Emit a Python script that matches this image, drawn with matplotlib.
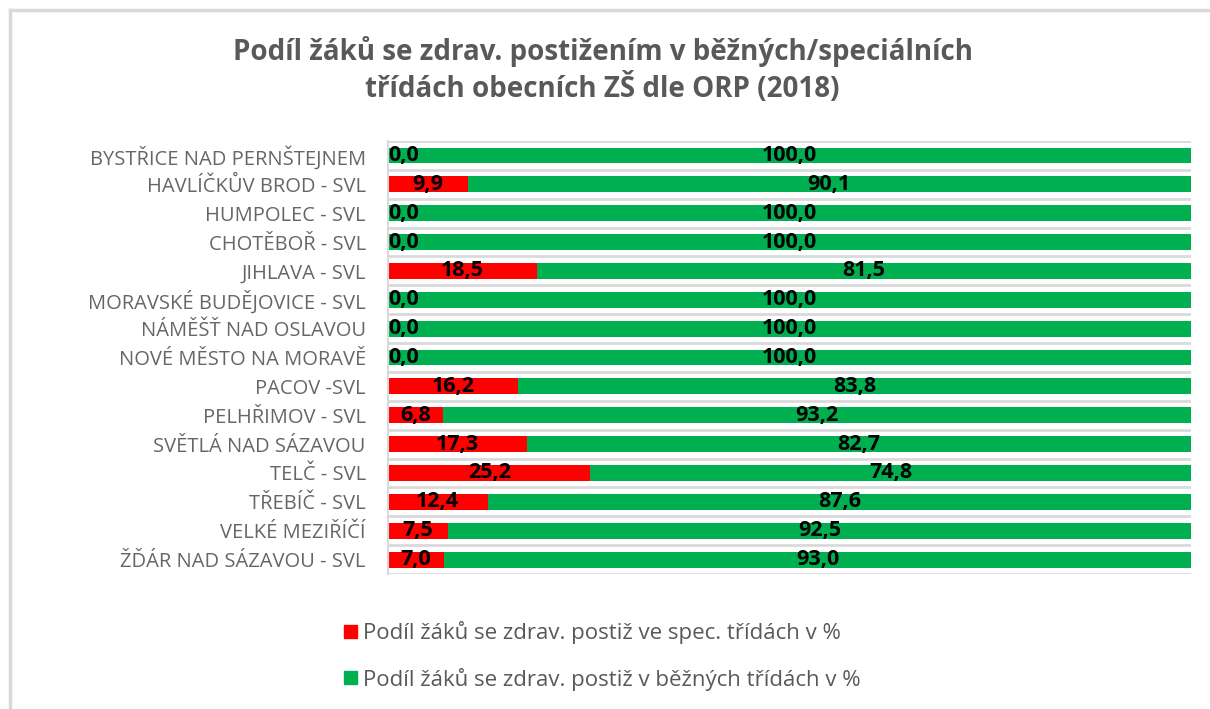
import numpy as np
import matplotlib.pyplot as plt
from matplotlib.lines import Line2D
from matplotlib.patches import Patch

orp = ["BYSTŘICE NAD PERNŠTEJNEM", "HAVLÍČKŮV BROD - SVL", "HUMPOLEC - SVL",
       "CHOTĚBOŘ - SVL", "JIHLAVA - SVL", "MORAVSKÉ BUDĚJOVICE - SVL",
       "NÁMĚŠŤ NAD OSLAVOU", "NOVÉ MĚSTO NA MORAVĚ", "PACOV -SVL",
       "PELHŘIMOV - SVL", "SVĚTLÁ NAD SÁZAVOU", "TELČ - SVL", "TŘEBÍČ - SVL",
       "VELKÉ MEZIŘÍČÍ", "ŽĎÁR NAD SÁZAVOU - SVL"]
spec = [0.0, 9.9, 0.0, 0.0, 18.5, 0.0, 0.0, 0.0, 16.2, 6.8, 17.3, 25.2, 12.4, 7.5, 7.0]
bezne = [100.0, 90.1, 100.0, 100.0, 81.5, 100.0, 100.0, 100.0, 83.8, 93.2, 82.7, 74.8, 87.6, 92.5, 93.0]
legend_labels = ["Podíl žáků se zdrav. postiž ve spec. třídách v %",
                 "Podíl žáků se zdrav. postiž v běžných třídách v %"]
title = "Podíl žáků se zdrav. postižením v běžných/speciálních\ntřídách obecních ZŠ dle ORP (2018)"

RED = "#ff0000"
GREEN = "#00b050"
GRAY = "#595959"

plt.rcParams['font.family'] = ['Open Sans', 'DejaVu Sans']

fig = plt.figure(figsize=(12.1, 7.09), dpi=100)
ax = fig.add_axes([0.3207, 0.1904, 0.6636, 0.6107])

y = np.arange(len(orp))
ax.barh(y, spec, height=0.55, color=RED)
ax.barh(y, bezne, left=spec, height=0.55, color=GREEN)

lab_font = dict(fontsize=15.5, fontweight='bold', color='black')
for i in range(len(orp)):
    s1 = f"{spec[i]:.1f}".replace('.', ',')
    s2 = f"{bezne[i]:.1f}".replace('.', ',')
    if spec[i] == 0:
        ax.annotate(s1, (0, y[i]), xytext=(0, 0), textcoords='offset points',
                    ha='left', va='center', **lab_font)
    else:
        ax.text(spec[i] / 2, y[i], s1, ha='center', va='center', **lab_font)
    ax.text(spec[i] + bezne[i] / 2, y[i], s2, ha='center', va='center', **lab_font)

ax.set_xlim(0, 100)
ax.set_ylim(len(orp) - 0.5, -0.5)
ax.set_yticks(y)
ax.set_yticklabels(orp, fontsize=14.5, color='#666666')
ax.tick_params(axis='y', length=0, pad=16)
ax.set_xticks([])
ax.set_yticks(np.arange(len(orp) + 1) - 0.5, minor=True)
ax.tick_params(axis='y', which='minor', length=0)
ax.grid(True, which='minor', axis='y', color='#d9d9d9', linewidth=2)
ax.set_axisbelow(True)
for s in ['top', 'right', 'bottom']:
    ax.spines[s].set_visible(False)
ax.spines['left'].set_color('#d9d9d9')
ax.spines['left'].set_linewidth(1.5)

fig.text(0.498, 0.901, title, ha='center', va='center', fontsize=20,
         fontweight='bold', color=GRAY, linespacing=1.25)

handles = [Patch(color=RED), Patch(color=GREEN)]
fig.legend(handles, legend_labels, loc='upper left', bbox_to_anchor=(0.268, 0.152),
           frameon=False, fontsize=16, labelcolor=GRAY, handlelength=0.55,
           handleheight=0.55, handletextpad=0.3, labelspacing=1.05)

# figure border (left and top only)
fig.add_artist(Line2D([0.008, 0.008], [0, 0.986], color='#d9d9d9', lw=2.5))
fig.add_artist(Line2D([0.008, 1], [0.986, 0.986], color='#d9d9d9', lw=2.5))

fig.savefig("out.png", dpi=100)
